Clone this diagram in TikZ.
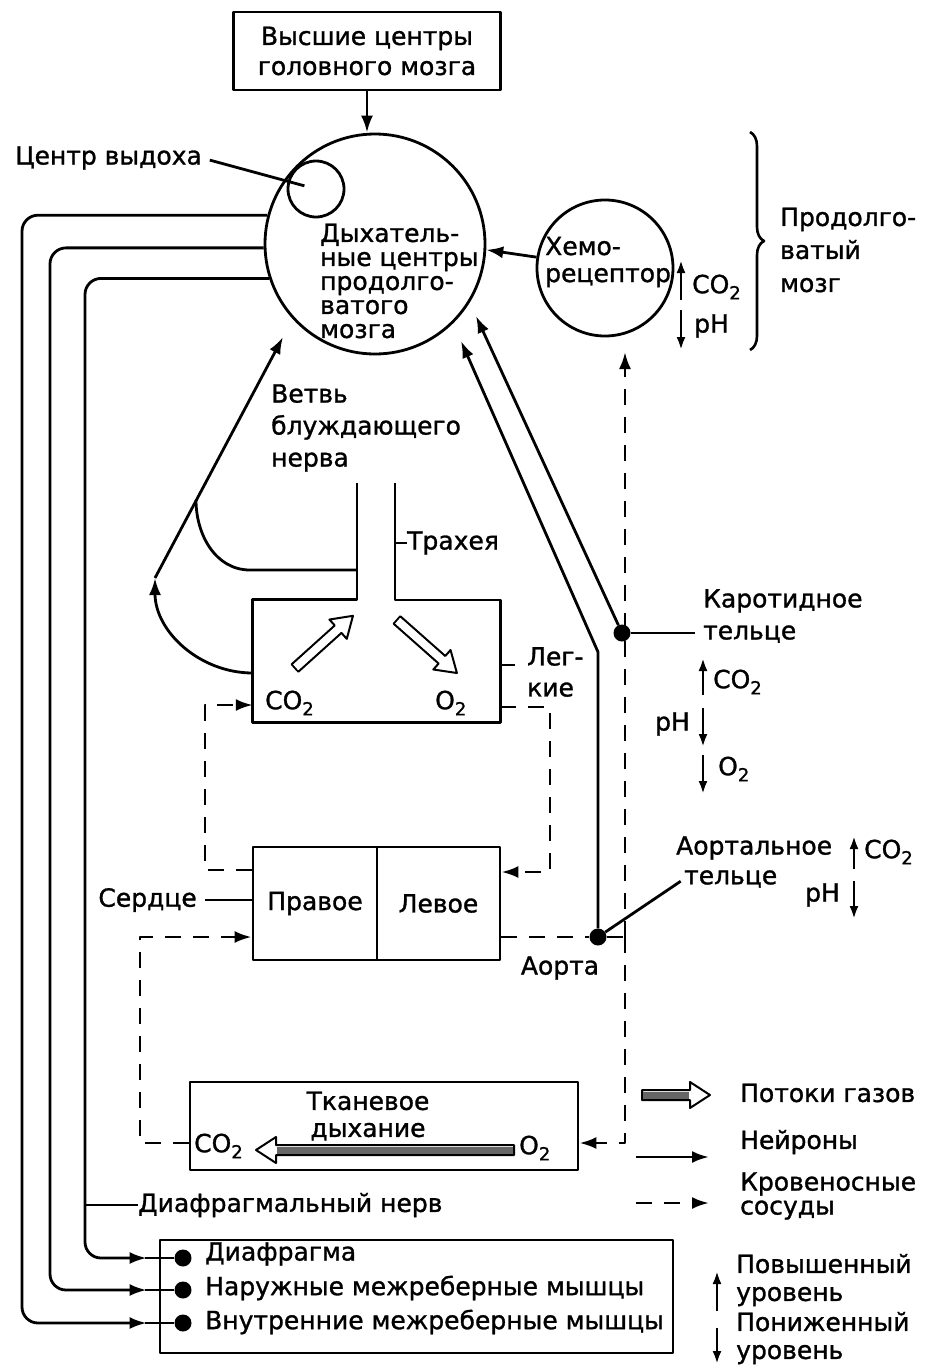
\documentclass[tikz,border=0pt]{standalone}
\usepackage{fontspec}
\setmainfont{DejaVu Sans}[UprightFeatures={FakeBold=1.2}]
\usetikzlibrary{arrows.meta,positioning,decorations.pathreplacing}
\newcommand{\lbl}{\fontsize{25}{30}\selectfont}
\newcommand{\subtwo}{\raisebox{-0.45ex}{\fontsize{18}{18}\selectfont 2}}
\tikzset{%
  nerve/.style={line width=2.8pt},% neuron connector
  blood/.style={line width=2.8pt, dash pattern=on 16pt off 12pt},% blood vessel
  organ/.style={draw, line width=2.8pt, rectangle, inner sep=0pt},% organ box
  txt/.style={inner sep=0pt, align=left},% plain label
  dot/.style={circle, fill=black, inner sep=0pt, minimum size=17pt},% receptor / effector
  lvl/.style={line width=2.6pt, -{Latex[length=13pt,width=9pt]}},% level up / down
  pics/gasflow/.style n args={2}{code={%
    \draw[line width=2pt, fill=white] (0,-5) -- (#1-20,-5) -- (#1-20,-13) -- (#1,0)
      -- (#1-20,13) -- (#1-20,5) -- (0,5) -- cycle;
    \fill[#2] (1,-3.5) rectangle (#1-21,3.5);}}% gas flow arrow
}

\begin{document}
\begin{tikzpicture}[x=1pt, y=-1pt, font=\lbl, line join=round,
  >={Latex[length=17pt,width=12pt]}]
\useasboundingbox (0,0) rectangle (927,1366);

% brain
\node[organ, minimum width=267pt, minimum height=78pt, align=center] (hc) at (367,51) {Высшие центры\\головного мозга};
\node[draw, circle, line width=2.8pt, minimum size=220pt, inner sep=0pt] (dc) at (375,244) {};
\node[draw, circle, line width=2.8pt, minimum size=56pt, inner sep=0pt] (ec) at (316,189) {};
\node[txt, anchor=west] (eclbl) at (15,158) {Центр выдоха};
\node[txt, anchor=west, font=\fontsize{25}{24}\selectfont] (dctxt) at (320,281) {Дыхатель-\\ные центры\\продолго-\\ватого\\мозга};
\draw[nerve, ->] (hc.south) -- (hc.south |- dc.north);
\draw[nerve, shorten <=8pt, shorten >=12pt] (eclbl.east) -- (ec.center);

\node[draw, circle, line width=2.8pt, minimum size=136pt, inner sep=0pt] (chemo) at (605,268) {};
\node[txt, anchor=west, font=\fontsize{25}{27}\selectfont] (chemotxt) at (545,262) {Хемо-\\рецептор};
\draw[nerve, ->] (chemo.171) -- (dc.-3);
\draw[lvl] (681,300) -- (681,260);
\node[txt, anchor=west] (chemoco) at (692,287) {CO\subtwo};
\draw[lvl] (681,310) -- (681,350);
\node[txt, anchor=west] (chemoph) at (694,326) {pH};
\draw[line width=2.6pt, decorate, decoration={brace, amplitude=14pt}] (750,132) -- (750,350);
\node[txt, anchor=west, font=\fontsize{25}{33}\selectfont] (medulla) at (780,250) {Продолго-\\ватый\\мозг};

% nerves to the muscles
\node[organ, minimum width=513pt, minimum height=113pt] (mb) at (416.5,1296.5) {};
\node[dot] (m1) at (183,1258) {};
\node[dot] (m2) at (183,1290) {};
\node[dot] (m3) at (183,1323) {};
\node[txt, anchor=west] (m1t) at (205,1254) {Диафрагма};
\node[txt, anchor=west] (m2t) at (205,1288) {Наружные межреберные мышцы};
\node[txt, anchor=west] (m3t) at (205,1322) {Внутренние межреберные мышцы};
\draw[nerve, rounded corners=16pt, ->] (dc.165) -| (22,1323) -- ([xshift=-12pt]mb.west |- m3);
\draw[nerve, rounded corners=16pt, ->] (dc.182) -| (50,1290) -- ([xshift=-12pt]mb.west |- m2);
\draw[nerve, rounded corners=16pt, ->] (dc.198.5) -| (85,1258) -- ([xshift=-12pt]mb.west |- m1);
\draw[nerve] ([xshift=-14pt]mb.west |- m1) -- (m1);
\draw[nerve] ([xshift=-14pt]mb.west |- m2) -- (m2);
\draw[nerve] ([xshift=-14pt]mb.west |- m3) -- (m3);
\node[txt, anchor=west] (phr) at (138,1205) {Диафрагмальный нерв};
\draw[nerve] (85,1205) -- (phr.west);

% lungs and vagus
\node[minimum width=247pt, minimum height=122pt, inner sep=0pt] (lung) at (376.5,661) {};
\draw[nerve] (357,483) |- (lung.north west) |- (lung.south east) |- (395,600) -- (395,483);
\node[txt, anchor=west] (trach) at (407,543) {Трахея};
\draw[nerve] (395,543) -- (trach.west);
\node[txt, anchor=west] (lco) at (265,703) {CO\subtwo};
\node[txt, anchor=west] (lo) at (435,703) {O\subtwo};
\pic[rotate=42] at (295,668) {gasflow={78}{white}};
\pic[rotate=-41.5] at (397,620) {gasflow={80}{white}};
\node[txt, anchor=west, font=\fontsize{25}{31}\selectfont] (lunglbl) at (527,672) {Лег-\\кие};
\draw[nerve] ([yshift=-4pt]lung.east) -- (515,665);
\node[txt, anchor=west, font=\fontsize{25}{32}\selectfont] (vagus) at (271,428) {Ветвь\\блуждающего\\нерва};
\coordinate (va) at (155,578);
\coordinate (vtip) at (283,337);
\draw[nerve, ->] (va) -- (vtip);
\draw[nerve] (196,500) to[out=-90, in=180] (250,570) -- (357,570);
\draw[nerve, ->] ([yshift=-12pt]lung.west) to[out=180, in=-90] (va);

% heart
\node[organ, minimum width=124pt, minimum height=113pt] (rh) at (315,903.5) {Правое};
\node[organ, minimum width=123pt, minimum height=113pt] (lh) at (438.5,903.5) {Левое};
\node[txt, anchor=east] (hlbl) at (197,900) {Сердце};
\draw[nerve, shorten <=8pt] (hlbl.east) -- (rh.west |- hlbl.east);
\draw[blood, ->] ([yshift=33.5pt]rh.west) -| (205,705) -- ([yshift=-44pt]lung.west);
\draw[blood, ->] ([yshift=-46pt]lung.east) -| (550,872) -- ([yshift=31.5pt]lh.east);

% tissue
\node[organ, minimum width=388pt, minimum height=88pt] (tis) at (384,1126) {};
\node[txt, align=center, font=\fontsize{25}{27}\selectfont] (tistxt) at (368,1116) {Тканевое\\дыхание};
\node[txt, anchor=west] (tco) at (194,1146) {CO\subtwo};
\node[txt, anchor=west] (to) at (519,1148) {O\subtwo};
\pic[rotate=180] at (514,1150) {gasflow={258}{black!60}};
\draw[blood, ->] ([yshift=-17pt]tis.west) -| (140,937) -- ([yshift=-33.5pt]rh.west);

% aorta and chemoreceptor bodies
\node[dot] (ab) at (598,937) {};
\node[dot] (cb) at (622,633) {};
\coordinate (aj) at (625,937);
\draw[blood] ([yshift=-33.5pt]lh.east) -- (ab) -- (aj);
\draw[blood, ->] (aj) -- (625,352);
\draw[blood, ->] (aj) |- ([yshift=-17pt]tis.east);
\node[txt] (aorta) at (560,968) {Аорта};
\coordinate (ct1) at (476,316);
\coordinate (ct2) at (461,341);
\draw[nerve, ->] (cb) -- (ct1);
\draw[nerve, ->] (ab) -- (598,652) -- (ct2);

\node[txt, anchor=west, font=\fontsize{25}{32}\selectfont] (cblbl) at (703,616) {Каротидное\\тельце};
\draw[nerve, shorten >=8pt] (cb) -- (cb -| cblbl.west);
\draw[lvl] (703,695) -- (703,658);
\node[txt, anchor=west] (cbco) at (713,682) {CO\subtwo};
\node[txt, anchor=east] (cbph) at (690,724) {pH};
\draw[lvl] (703,708) -- (703,747);
\draw[lvl] (703,755) -- (703,794);
\node[txt, anchor=west] (cbo) at (718,769) {O\subtwo};

\node[txt, anchor=west] (ablbl) at (676,848) {Аортальное};
\node[txt, anchor=west] (ablbl2) at (684,879) {тельце};
\draw[nerve, shorten <=4pt] (ablbl2.west) -- (ab);
\draw[lvl] (854,869) -- (854,836);
\node[txt, anchor=west] (abco) at (864,852) {CO\subtwo};
\node[txt, anchor=east] (abph) at (840,895) {pH};
\draw[lvl] (854,881) -- (854,919);

% legend
\pic at (642,1095) {gasflow={68}{black!60}};
\node[txt, anchor=west] (lgas) at (740,1093) {Потоки газов};
\draw[nerve, ->] (636,1157) -- (709,1157);
\node[txt, anchor=west] (lneu) at (740,1142) {Нейроны};
\draw[blood, ->] (636,1203) -- (709,1203);
\node[txt, anchor=west, font=\fontsize{25}{24}\selectfont] (lves) at (740,1196) {Кровеносные\\сосуды};
\draw[lvl] (717,1311) -- (717,1271);
\node[txt, anchor=west, font=\fontsize{25}{28}\selectfont] (lup) at (736,1280) {Повышенный\\уровень};
\draw[lvl] (717,1328) -- (717,1364);
\node[txt, anchor=west, font=\fontsize{25}{28}\selectfont] (ldown) at (736,1338) {Пониженный\\уровень};

\end{tikzpicture}
\end{document}
